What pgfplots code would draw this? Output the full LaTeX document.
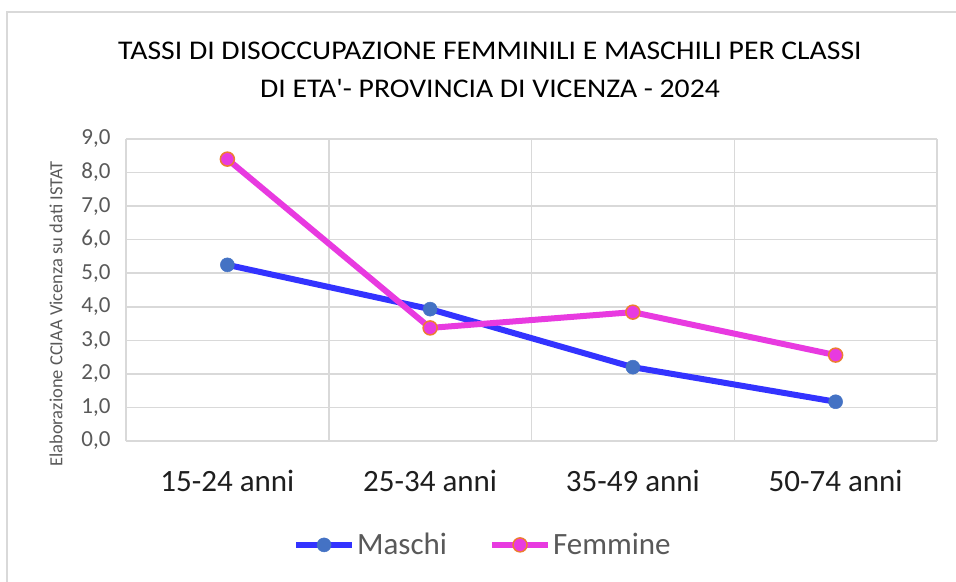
\documentclass[border=0pt]{standalone}
\usepackage{fontspec}
\setmainfont{Carlito}
\usepackage{pgfplots}
\pgfplotsset{compat=1.18}
\definecolor{gridc}{RGB}{217,217,217}
\definecolor{mline}{RGB}{51,51,255}
\definecolor{mmark}{RGB}{68,114,196}
\definecolor{fline}{RGB}{232,58,224}
\definecolor{fedge}{RGB}{237,125,49}
\definecolor{txt}{RGB}{89,89,89}
\begin{document}
\begin{tikzpicture}[x=1bp,y=1bp]
\path[use as bounding box] (0bp,0bp) rectangle (956bp,582bp);
\draw[gridc, line width=2bp] (7bp,0bp) -- (7bp,570bp) -- (956bp,570bp);
\node[font=\fontsize{27bp}{38bp}\selectfont, align=center, text=black, anchor=center, xscale=1.1] at (490bp,512bp) {TASSI DI DISOCCUPAZIONE FEMMINILI E MASCHILI PER CLASSI\\DI ETA\textquotesingle- PROVINCIA DI VICENZA - 2024};
\node[font=\fontsize{18.5bp}{20bp}\selectfont, text=txt, rotate=90] at (56bp,268bp) {Elaborazione CCIAA Vicenza su dati ISTAT};
\begin{axis}[
  at={(126bp,141bp)}, anchor=south west,
  scale only axis, width=811bp, height=302bp,
  xmin=-0.5, xmax=3.5, ymin=0, ymax=9,
  xtick={0,1,2,3},
  xticklabels={15-24 anni,25-34 anni,35-49 anni,50-74 anni},
  minor xtick={-0.5,0.5,1.5,2.5,3.5},
  ytick={0,1,...,9},
  yticklabel={\pgfmathprintnumber[fixed,fixed zerofill,precision=1,use comma]{\tick}},
  /pgf/number format/assume math mode=true,
  xmajorgrids=false, xminorgrids=true, ymajorgrids=true,
  grid style={gridc, line width=1.5bp},
  minor grid style={gridc, line width=1.5bp},
  axis line style={draw=none},
  major tick length=0pt, minor tick length=0pt,
  tick style={draw=none},
  xticklabel style={font=\fontsize{31bp}{34bp}\selectfont, text={rgb,255:red,30;green,30;blue,30}, yshift=-26bp},
  yticklabel style={font=\fontsize{23bp}{25bp}\selectfont, text=txt, xshift=-12bp},
  clip=false,
  legend style={at={(0.44,-0.344)}, anchor=center, draw=none, fill=none,
    legend columns=2, font=\fontsize{31bp}{34bp}\selectfont, text=txt,
    /tikz/every even column/.append style={column sep=40bp},
    inner sep=0pt, cells={anchor=west}},
  legend image code/.code={\draw[#1, mark repeat=2, mark phase=2] plot coordinates {(0bp,0bp) (28bp,0bp) (56bp,0bp)};},
]
\draw[gridc, line width=1.5bp] (axis cs:-0.5,0) -- (axis cs:3.5,0);
\addplot[mline, line width=6bp, mark=*, mark size=7bp, mark options={fill=mmark, draw=mmark, line width=0.5bp}]
  coordinates {(0,5.25) (1,3.93) (2,2.2) (3,1.17)};
\addlegendentry{Maschi}
\addplot[fline, line width=6bp, mark=*, mark size=7bp, mark options={fill=fline, draw=fedge, line width=1.5bp}]
  coordinates {(0,8.4) (1,3.37) (2,3.84) (3,2.56)};
\addlegendentry{Femmine}
\end{axis}
\end{tikzpicture}
\end{document}
